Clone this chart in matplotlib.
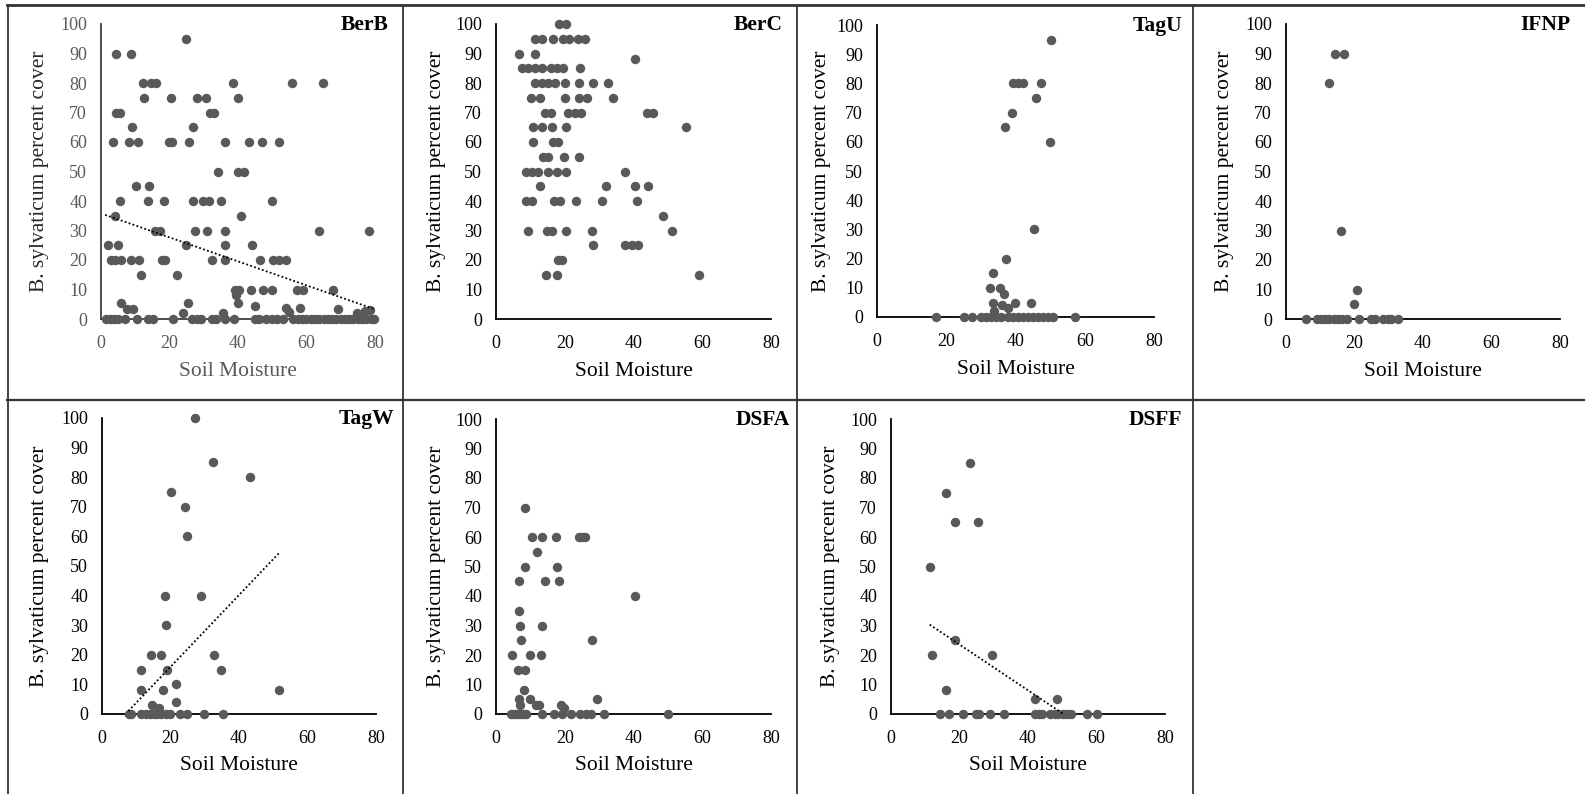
import matplotlib
matplotlib.use('Agg')
import matplotlib.pyplot as plt
from matplotlib.lines import Line2D

plt.rcParams['font.family'] = ['Liberation Serif', 'DejaVu Serif']

# ---------------- data ----------------
x_label = "Soil Moisture"
y_label = "B. sylvaticum percent cover"
x_ticks = [0, 20, 40, 60, 80]
y_ticks = [0, 10, 20, 30, 40, 50, 60, 70, 80, 90, 100]

berb_x = [24.7, 4.5, 8.9,
          12.2, 14.6, 16.2, 38.6, 55.9, 64.9,
          12.6, 20.4, 27.9, 30.6, 39.9,
          4.5, 5.5, 31.8, 33.0,
          9.0, 26.8,
          3.6, 8.2, 10.7, 19.9, 20.6, 25.8, 36.3, 43.1, 47.0, 52.1,
          34.1, 39.9, 41.8,
          10.1, 14.0,
          5.5, 13.8, 18.5, 26.8, 29.9, 31.5, 35.0, 49.8,
          4.1, 40.8,
          15.8, 17.2, 27.4, 30.9, 36.3, 63.6, 78.2,
          2.1, 4.9, 24.7, 36.3, 44.0,
          2.8, 4.1, 5.7, 8.8, 11.2, 17.7, 18.7, 32.5, 36.3, 46.5, 50.1, 52.0, 54.0,
          11.7, 22.3,
          39.0, 40.3, 43.7, 47.4, 49.8, 57.1, 59.1, 67.8,
          39.3, 5.8, 25.5, 39.9, 45.0, 7.7, 9.4, 69.3, 54.0, 58.1, 55.0,
          23.8, 35.5, 74.6, 77.1, 78.5,
          1.5, 2.6, 3.8, 5.1, 7.0, 10.6, 13.8, 15.3, 21.1, 26.7, 27.9, 29.1, 32.3,
          33.6, 36.2, 38.9, 44.9, 46.2, 48.3, 49.8, 51.3, 53.2, 56.2, 57.5, 58.7,
          60.0, 61.2, 62.5, 63.7, 65.0, 66.2, 67.5, 68.7, 70.0, 71.2, 72.5, 73.7,
          75.0, 76.2, 77.5, 78.7, 79.7]
berb_y = [95, 90, 90,
          80, 80, 80, 80, 80, 80,
          75, 75, 75, 75, 75,
          70, 70, 70, 70,
          65, 65,
          60, 60, 60, 60, 60, 60, 60, 60, 60, 60,
          50, 50, 50,
          45, 45,
          40, 40, 40, 40, 40, 40, 40, 40,
          35, 35,
          30, 30, 30, 30, 30, 30, 30,
          25, 25, 25, 25, 25,
          20, 20, 20, 20, 20, 20, 20, 20, 20, 20, 20, 20, 20,
          15, 15,
          10, 10, 10, 10, 10, 10, 10, 10,
          8, 5.3, 5.3, 5.3, 4.4, 3.3, 3.3, 3.3, 3.6, 3.6, 2.5,
          2.1, 2.1, 2.1, 2.8, 3.0,
          0, 0, 0, 0, 0, 0, 0, 0, 0, 0, 0, 0, 0,
          0, 0, 0, 0, 0, 0, 0, 0, 0, 0, 0, 0,
          0, 0, 0, 0, 0, 0, 0, 0, 0, 0, 0, 0,
          0, 0, 0, 0, 0]
berb_trend_x = [1.2, 79.7]
berb_trend_y = [35.3, 3.4]

berc_x = [18.3, 20.3,
          11.2, 13.5, 16.5, 19.6, 21.2, 23.8, 26.0,
          6.7, 11.3, 40.3,
          7.5, 9.4, 11.3, 13.3, 15.9, 17.6, 19.6, 24.4,
          11.2, 13.3, 15.2, 17.2, 20.1, 24.2, 28.1, 32.7,
          10.2, 12.8, 20.1, 24.2, 26.6, 33.9,
          14.3, 15.9, 21.0, 23.0, 24.7, 43.8, 45.8,
          10.7, 13.3, 16.2, 20.3, 55.2,
          10.7, 16.5, 18.1,
          13.8, 15.2, 19.8, 24.0,
          8.7, 10.4, 12.3, 15.2, 17.6, 20.4, 37.5,
          12.8, 32.0, 40.4, 44.1,
          8.7, 10.4, 16.9, 18.6, 23.2, 30.7, 41.1,
          48.7,
          9.2, 14.9, 16.2, 20.3, 27.8, 51.1,
          28.1, 37.5, 39.5, 41.4,
          18.1, 19.1,
          14.5, 17.6, 59.0]
berc_y = [100, 100,
          95, 95, 95, 95, 95, 95, 95,
          90, 90, 88,
          85, 85, 85, 85, 85, 85, 85, 85,
          80, 80, 80, 80, 80, 80, 80, 80,
          75, 75, 75, 75, 75, 75,
          70, 70, 70, 70, 70, 70, 70,
          65, 65, 65, 65, 65,
          60, 60, 60,
          55, 55, 55, 55,
          50, 50, 50, 50, 50, 50, 50,
          45, 45, 45, 45,
          40, 40, 40, 40, 40, 40, 40,
          35,
          30, 30, 30, 30, 30, 30,
          25, 25, 25, 25,
          20, 20,
          15, 15, 15]

tagu_x = [50.2, 39.4, 40.6, 42.1, 47.4, 45.8, 38.9, 36.9, 50.0, 45.4, 37.4,
          33.4, 32.5, 35.4, 36.7, 33.5, 39.9, 44.6, 36.2, 37.7, 33.8,
          17.1, 25.1, 27.5, 29.9, 31.4, 32.8, 34.3, 35.8, 37.7, 39.2, 40.6,
          42.1, 43.5, 45.0, 46.5, 47.9, 49.4, 50.8, 57.1]
tagu_y = [95, 80, 80, 80, 80, 75, 70, 65, 60, 30, 20,
          15, 10, 10, 7.8, 4.9, 4.9, 4.9, 4.0, 3.2, 2.1,
          0, 0, 0, 0, 0, 0, 0, 0, 0, 0, 0,
          0, 0, 0, 0, 0, 0, 0, 0]

ifnp_x = [14.4, 16.8, 12.7, 16.0, 20.6, 19.9,
          5.8, 9.0, 10.3, 11.5, 12.7, 13.9, 15.1, 16.3, 17.8, 21.3, 24.8,
          26.0, 28.4, 29.7, 30.8, 32.6]
ifnp_y = [90, 90, 80, 30, 10, 5,
          0, 0, 0, 0, 0, 0, 0, 0, 0, 0, 0,
          0, 0, 0, 0, 0]

tagw_x = [27.1, 32.5, 43.3, 20.0, 24.2, 24.8, 18.4, 28.9, 18.6,
          14.2, 17.2, 32.7, 11.4, 19.0, 34.6, 21.5, 11.3, 17.9, 51.8,
          21.5, 14.7, 16.7,
          7.9, 8.6, 11.5, 12.8, 14.0, 15.1, 16.2, 17.3, 18.6, 19.8, 22.9,
          24.9, 29.8, 35.4]
tagw_y = [100, 85, 80, 75, 70, 60, 40, 40, 30,
          20, 20, 20, 15, 15, 15, 10, 8.2, 8.2, 8.2,
          4.2, 3.0, 2.1,
          0, 0, 0, 0, 0, 0, 0, 0, 0, 0, 0,
          0, 0, 0]
tagw_trend_x = [7.7, 51.8]
tagw_trend_y = [1.0, 54.5]

dsfa_x = [8.5, 10.5, 13.3, 17.4, 24.1, 25.1, 25.8, 11.9, 8.5, 17.6,
          6.6, 14.3, 18.2, 40.4, 6.6, 7.0, 13.3, 7.3, 27.9, 4.6, 9.8, 13.0,
          6.5, 8.3, 8.1, 6.7, 9.8, 29.5, 6.9, 11.6, 12.5, 18.9, 19.7,
          4.4, 5.1, 5.9, 6.6, 7.4, 8.1, 8.8, 13.3, 16.9, 19.2, 21.9, 24.4,
          26.3, 27.7, 31.4, 50.0]
dsfa_y = [70, 60, 60, 60, 60, 60, 60, 55, 50, 50,
          45, 45, 45, 40, 35, 30, 30, 25, 25, 20, 20, 20,
          15, 15, 8, 5, 5, 5, 3, 3, 3, 3, 2.1,
          0, 0, 0, 0, 0, 0, 0, 0, 0, 0, 0, 0,
          0, 0, 0, 0]

dsff_x = [23.1, 16.0, 18.8, 25.5, 11.3, 18.8, 12.1, 29.6, 16.0, 41.9, 48.6,
          14.2, 16.8, 21.0, 24.7, 25.7, 28.8, 33.0, 41.9, 43.1, 44.0, 46.4,
          47.9, 48.8, 50.1, 51.3, 52.5, 57.3, 60.0]
dsff_y = [85, 75, 65, 65, 50, 25, 20, 20, 8.1, 5, 5,
          0, 0, 0, 0, 0, 0, 0, 0, 0, 0, 0,
          0, 0, 0, 0, 0, 0, 0]
dsff_trend_x = [11.3, 60.0]
dsff_trend_y = [30.3, -7.5]

# ---------------- layout (pixels) ----------------
W, H = 1585, 794
fig = plt.figure(figsize=(W / 100, H / 100), dpi=100)

def fx(px):
    return px / W

def fy(py):
    return 1 - py / H

MARK = '#595959'

panels = [
    # name, x, y, trend, (left, right, top, bottom), title_right, text color, ylabel x
    ("BerB", berb_x, berb_y, (berb_trend_x, berb_trend_y), (101, 375, 24, 319), 389, '#595959', 40),
    ("BerC", berc_x, berc_y, None, (496, 771, 24, 319), 783, '#000000', 436),
    ("TagU", tagu_x, tagu_y, None, (877, 1154, 25, 317), 1182, '#000000', 821),
    ("IFNP", ifnp_x, ifnp_y, None, (1286, 1560, 24, 319), 1570, '#000000', 1225),
    ("TagW", tagw_x, tagw_y, (tagw_trend_x, tagw_trend_y), (102, 376, 418, 714), 394, '#000000', 40),
    ("DSFA", dsfa_x, dsfa_y, None, (496, 771, 419, 714), 790, '#000000', 437),
    ("DSFF", dsff_x, dsff_y, (dsff_trend_x, dsff_trend_y), (891, 1165, 419, 714), 1182, '#000000', 831),
]

for name, xs, ys, trend, (l, r, t, b), tr, tcol, ylx in panels:
    ax = fig.add_axes([fx(l), fy(b), (r - l) / W, (b - t) / H])
    ax.set_xlim(0, 80)
    ax.set_ylim(0, 100)
    ax.set_xticks(x_ticks)
    ax.set_yticks(y_ticks)
    for s in ('top', 'right'):
        ax.spines[s].set_visible(False)
    spc = '#404040' if name == "BerB" else '#000000'
    for s in ('left', 'bottom'):
        ax.spines[s].set_color(spc)
        ax.spines[s].set_linewidth(1.3)
    ax.tick_params(axis='both', length=0, labelsize=13, colors=tcol)
    ax.tick_params(axis='x', pad=11.5)
    ax.tick_params(axis='y', pad=10)
    ax.scatter(xs, ys, s=46, color=MARK, linewidths=0, zorder=3, clip_on=False)
    if trend is not None:
        ax.plot(trend[0], trend[1], color='black', linewidth=1.3,
                linestyle=(0, (1, 1.3)), zorder=4)
    # axis titles
    fig.text(fx((l + r) / 2), fy(b + 52), x_label, ha='center', va='center',
             fontsize=15.5, color=tcol)
    ycol = '#262626' if name == "BerB" else '#000000'
    fig.text(fx(ylx), fy((t + b) / 2), y_label, ha='center', va='center',
             rotation=90, fontsize=15.5, color=ycol)
    # panel name
    fig.text(fx(tr), fy(t + 1), name, ha='right', va='center', fontsize=15.5,
             fontweight='bold', color='black')

# ---------------- table borders ----------------
border = '#333333'
lines = [
    ((7, 1585), (5, 5), 2.0),
    ((7.5, 7.5), (5, 794), 1.3),
    ((7, 1585), (400, 400), 1.6),
    ((403, 403), (5, 794), 1.3),
    ((797, 797), (5, 794), 1.3),
    ((1193, 1193), (5, 794), 1.3),
]
for xs_, ys_, lw in lines:
    fig.add_artist(Line2D([fx(v) for v in xs_], [fy(v) for v in ys_],
                          transform=fig.transFigure, color=border, linewidth=lw))

fig.savefig('out.png', dpi=100, facecolor='white')
